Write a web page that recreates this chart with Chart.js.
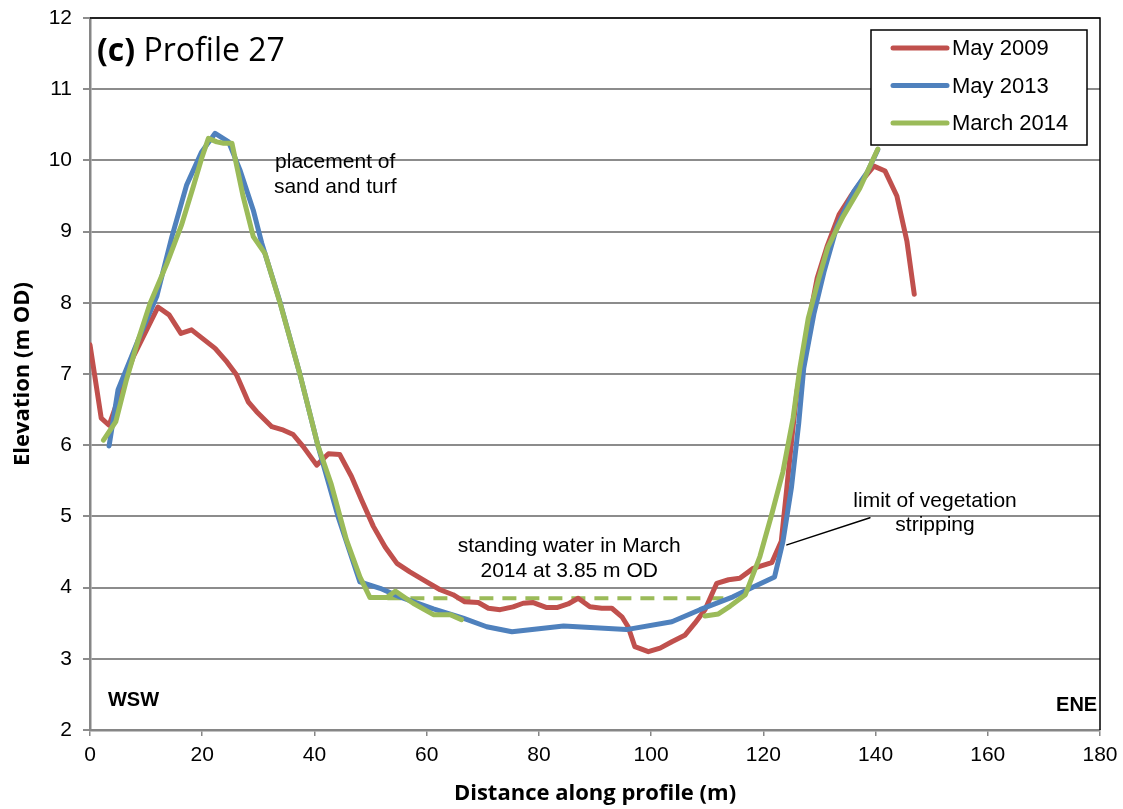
<!DOCTYPE html>
<html>
<head>
<meta charset="utf-8">
<title>Profile 27</title>
<script src="https://cdn.jsdelivr.net/npm/chart.js@4.4.1/dist/chart.umd.min.js"></script>
<style>
  body { margin: 0; background: #fff; }
  canvas { display: block; }
</style>
</head>
<body>
<canvas id="profile" width="1123" height="809" style="width:1123px;height:809px"></canvas>
<script>
// survey profiles: distance along profile (m) and elevation (m OD)
var may2009X = [0, 2, 3.4, 7.7, 12.1, 14.1, 16.2, 18.1, 20.2, 22.3, 24.4, 26.1, 28.2, 29.7, 32.4, 34.2, 36.2, 38, 40.4, 42.5, 44.5, 46.6, 48.4, 50.5, 52.6, 54.7, 57, 60, 62.4, 64.7, 66.8, 69.2, 71, 73.1, 75.4, 77.2, 79, 81.4, 83.2, 85.2, 87, 89.1, 91.2, 93, 94.8, 95.9, 97.1, 99.5, 101.6, 103.7, 106, 107.8, 109.6, 111.7, 113.8, 115.8, 118.2, 121.5, 123.2, 124.2, 125.1, 126, 126.9, 128.1, 129.6, 131.4, 133.5, 135.6, 137.6, 139.7, 141.7, 143.8, 145.6, 146.9];
var may2009Y = [7.41, 6.38, 6.28, 7.24, 7.94, 7.83, 7.57, 7.62, 7.49, 7.36, 7.17, 6.99, 6.61, 6.47, 6.26, 6.22, 6.15, 5.98, 5.72, 5.88, 5.87, 5.56, 5.23, 4.86, 4.57, 4.34, 4.22, 4.08, 3.97, 3.90, 3.80, 3.79, 3.71, 3.69, 3.73, 3.78, 3.79, 3.72, 3.72, 3.77, 3.85, 3.73, 3.71, 3.71, 3.59, 3.45, 3.17, 3.10, 3.15, 3.24, 3.33, 3.50, 3.69, 4.06, 4.11, 4.13, 4.27, 4.35, 4.65, 5.41, 6.11, 6.76, 7.14, 7.73, 8.35, 8.80, 9.24, 9.50, 9.72, 9.92, 9.85, 9.50, 8.86, 8.12];

var may2013X = [3.4, 5.0, 8.6, 11.9, 14.6, 17.2, 19.9, 22.3, 24.7, 26.7, 29.1, 30.6, 33.9, 37.4, 40.6, 44.2, 48.1, 51.7, 55.2, 61.2, 66.5, 70.7, 75.2, 84.4, 95.6, 103.7, 108.7, 114.6, 118.2, 122.0, 123.5, 125.0, 126.3, 127.2, 129.0, 130.8, 133.1, 136.1, 138.5, 140.4];
var may2013Y = [5.99, 6.78, 7.48, 8.09, 8.93, 9.65, 10.12, 10.38, 10.26, 9.87, 9.30, 8.84, 8.0, 7.0, 6.0, 5.0, 4.08, 3.99, 3.87, 3.70, 3.57, 3.45, 3.38, 3.46, 3.41, 3.52, 3.69, 3.87, 4.01, 4.15, 4.65, 5.40, 6.30, 7.08, 7.84, 8.43, 9.07, 9.56, 9.83, 10.15];

// March 2014 was not surveyed under the standing water (null = break in line)
var mar2014X = [2.4, 4.6, 6.5, 8.6, 10.7, 13.7, 16.3, 18.4, 19.9, 21.1, 22.6, 23.8, 25.3, 27.3, 29.1, 31.2, 33.9, 37.4, 40.6, 43.0, 45.7, 48.1, 49.9, 52.9, 54.4, 57.6, 61.2, 64.2, 66.2, 88, 109.6, 112, 114.1, 116.8, 119.4, 121.5, 123.5, 125.3, 126.5, 128, 129.8, 131.5, 134.2, 137.2, 140.4];
var mar2014Y = [6.07, 6.33, 6.92, 7.48, 7.99, 8.55, 9.09, 9.63, 10.03, 10.31, 10.26, 10.24, 10.24, 9.49, 8.93, 8.69, 7.99, 7.0, 6.0, 5.45, 4.67, 4.15, 3.86, 3.86, 3.95, 3.78, 3.62, 3.62, 3.55, null, 3.60, 3.63, 3.74, 3.90, 4.44, 5.03, 5.63, 6.38, 7.08, 7.78, 8.32, 8.78, 9.21, 9.61, 10.16];

var waterLevel = 3.85;
var waterX = [53, 114];

// leader line for the vegetation note
var leaderX = [124.2, 139.0];
var leaderY = [4.60, 4.98];

function pts(xs, ys) {
  return xs.map(function (x, i) { return { x: x, y: ys[i] }; });
}

var RED = '#C0504D', BLUE = '#4F81BD', GREEN = '#9BBB59';
var ARIAL = '"Liberation Sans", Arial, sans-serif';
var CAL = '"Open Sans", "Noto Sans", sans-serif';

var legendItems = [
  { label: 'May 2009', color: RED },
  { label: 'May 2013', color: BLUE },
  { label: 'March 2014', color: GREEN }
];

var notes = [
  { text: 'placement of', x: 43.7, y: 9.98 },
  { text: 'sand and turf', x: 43.7, y: 9.63 },
  { text: 'standing water in March', x: 85.4, y: 4.58 },
  { text: '2014 at 3.85 m OD', x: 85.4, y: 4.23 },
  { text: 'limit of vegetation', x: 150.6, y: 5.22 },
  { text: 'stripping', x: 150.6, y: 4.88 }
];

var overlay = {
  id: 'overlay',
  afterDraw: function (chart) {
    var c = chart.ctx, a = chart.chartArea;
    var xs = chart.scales.x, ys = chart.scales.y;
    c.save();
    // frame on top and right
    c.strokeStyle = '#000';
    c.lineWidth = 1.5;
    c.beginPath();
    c.moveTo(a.left, a.top);
    c.lineTo(a.right, a.top);
    c.lineTo(a.right, a.bottom);
    c.stroke();

    // notes
    c.fillStyle = '#000';
    c.font = '21px ' + ARIAL;
    c.textAlign = 'center';
    c.textBaseline = 'middle';
    notes.forEach(function (n) {
      c.fillText(n.text, xs.getPixelForValue(n.x), ys.getPixelForValue(n.y));
    });

    // direction labels
    c.font = 'bold 20px ' + ARIAL;
    c.textAlign = 'left';
    c.fillText('WSW', xs.getPixelForValue(3.2), ys.getPixelForValue(2.42));
    c.textAlign = 'right';
    c.fillText('ENE', xs.getPixelForValue(179.5), ys.getPixelForValue(2.35));

    // panel title
    c.textAlign = 'left';
    c.textBaseline = 'alphabetic';
    c.font = 'bold 32px ' + CAL;
    var px = a.left + 7, py = a.top + 43;
    c.fillText('(c)', px, py);
    var w = c.measureText('(c) ').width;
    c.font = '32px ' + CAL;
    c.fillText('Profile 27', px + w, py);

    // legend
    var bx = 871, by = 30, bw = 216, bh = 115;
    c.fillStyle = '#fff';
    c.fillRect(bx, by, bw, bh);
    c.strokeStyle = '#000';
    c.lineWidth = 1.5;
    c.strokeRect(bx, by, bw, bh);
    c.font = '22px ' + ARIAL;
    c.textBaseline = 'middle';
    c.lineCap = 'round';
    legendItems.forEach(function (it, i) {
      var ly = by + 18 + i * 37.5;
      c.strokeStyle = it.color;
      c.lineWidth = 5;
      c.beginPath();
      c.moveTo(bx + 22, ly);
      c.lineTo(bx + 76, ly);
      c.stroke();
      c.fillStyle = '#000';
      c.fillText(it.label, bx + 81, ly + 1);
    });
    c.restore();
  }
};

var ctx = document.getElementById('profile').getContext('2d');
var profileChart = new Chart(ctx, {
  type: 'line',
  data: {
    datasets: [
      {
        label: 'leader',
        data: pts(leaderX, leaderY),
        borderColor: '#000',
        borderWidth: 1.5,
        order: 0
      },
      {
        label: 'water',
        data: pts(waterX, [waterLevel, waterLevel]),
        borderColor: GREEN,
        borderWidth: 4,
        borderDash: [14, 9],
        borderCapStyle: 'butt',
        order: 4
      },
      {
        label: 'May 2009',
        data: pts(may2009X, may2009Y),
        borderColor: RED,
        borderWidth: 5,
        order: 3
      },
      {
        label: 'May 2013',
        data: pts(may2013X, may2013Y),
        borderColor: BLUE,
        borderWidth: 5,
        order: 2
      },
      {
        label: 'March 2014',
        data: pts(mar2014X, mar2014Y),
        borderColor: GREEN,
        borderWidth: 5,
        spanGaps: false,
        order: 1
      }
    ]
  },
  options: {
    responsive: false,
    animation: false,
    layout: { padding: { top: 18, right: 23, left: 0, bottom: 0 } },
    plugins: {
      legend: { display: false },
      tooltip: { enabled: false }
    },
    elements: {
      point: { radius: 0, hoverRadius: 0 },
      line: { tension: 0, borderJoinStyle: 'round', borderCapStyle: 'round', fill: false }
    },
    scales: {
      x: {
        type: 'linear',
        min: 0,
        max: 180,
        afterFit: function (s) { s.height = 79; s.paddingLeft = 0; s.paddingRight = 0; },
        ticks: { stepSize: 20, color: '#000', padding: 7, font: { family: ARIAL, size: 21 } },
        grid: { drawOnChartArea: false, drawTicks: true, tickLength: 6, color: '#868686', lineWidth: 1.5 },
        border: { color: '#868686', width: 2.5 },
        title: {
          display: true,
          text: 'Distance along profile (m)',
          color: '#000',
          font: { family: CAL, size: 22, weight: 'bold' },
          padding: { top: 0, bottom: 2 }
        }
      },
      y: {
        min: 2,
        max: 12,
        afterFit: function (s) { s.width = 90; s.paddingTop = 0; s.paddingBottom = 0; },
        ticks: { stepSize: 1, color: '#000', padding: 11, font: { family: ARIAL, size: 21 } },
        grid: { color: '#8c8c8c', lineWidth: 2, tickLength: 7 },
        border: { color: '#868686', width: 2.5 },
        title: {
          display: true,
          text: 'Elevation (m OD)',
          color: '#000',
          font: { family: CAL, size: 22, weight: 'bold' },
          padding: { top: 10, bottom: 0 }
        }
      }
    }
  },
  plugins: [overlay]
});
</script>
</body>
</html>
